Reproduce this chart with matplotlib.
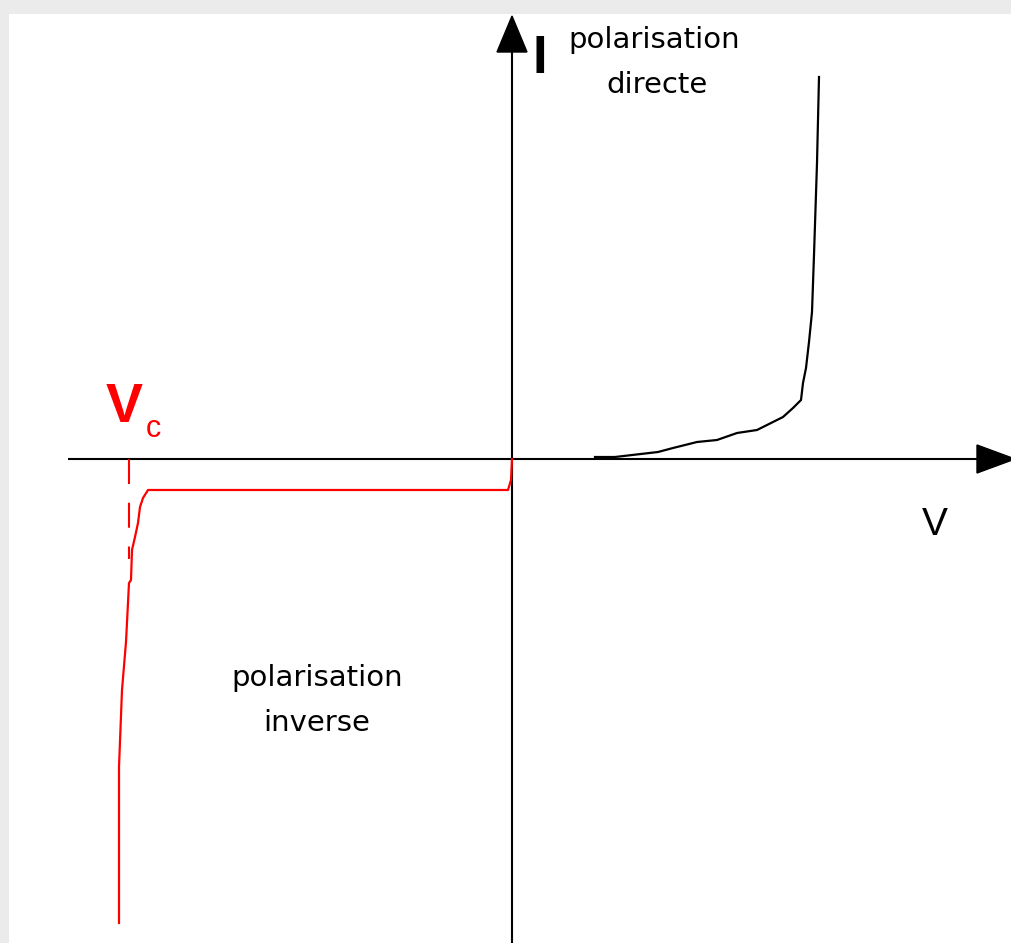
import numpy as np
import matplotlib
matplotlib.use("Agg")
import matplotlib.pyplot as plt
from matplotlib.patches import Polygon, Rectangle

# forward bias branch (V, I)
v_direct = [83, 103, 146, 161, 185, 205, 225, 245, 261, 271, 281, 289, 291, 294, 297, 300, 302, 305, 307]
i_direct = [2, 2, 7, 11, 17, 19, 26, 29, 37, 42, 51, 59, 76, 91, 117, 147, 204, 296, 382]

# reverse bias branch with breakdown at Vc
v_inverse = [0, -1, -4, -362, -364, -369, -372, -374, -377, -380, -381, -383, -386, -390, -393, -393]
i_inverse = [0, -21, -31, -31, -31, -39, -48, -64, -78, -91, -121, -124, -183, -231, -308, -464]

v_c = -383
i_c_mark = -100

fig = plt.figure(figsize=(10.11, 9.43), dpi=100)
fig.patch.set_facecolor("white")
# light grey frame on left and top
fig.patches.append(Rectangle((0, 0), 9 / 1011, 1, transform=fig.transFigure,
                             facecolor="#ebebeb", edgecolor="none"))
fig.patches.append(Rectangle((0, 1 - 14 / 943), 1, 14 / 943, transform=fig.transFigure,
                             facecolor="#ebebeb", edgecolor="none"))

ax = fig.add_axes([0, 0, 1, 1])
ax.set_facecolor("none")
ax.set_xlim(-512, 499)
ax.set_ylim(-484, 459)
ax.axis("off")

# axes with arrow heads
ax.plot([-444, 465], [0, 0], color="black", lw=1.5, solid_capstyle="butt")
ax.plot([0, 0], [-484, 407], color="black", lw=1.5, solid_capstyle="butt")
ax.add_patch(Polygon([[465, 14], [465, -14], [503, 0]], closed=True,
                     facecolor="black", edgecolor="black"))
ax.add_patch(Polygon([[-15, 407], [15, 407], [0, 443]], closed=True,
                     facecolor="black", edgecolor="black"))

# characteristic curves
ax.plot(v_direct, i_direct, color="black", lw=1.6)
ax.plot(v_inverse, i_inverse, color="red", lw=1.6)
ax.plot([v_c, v_c], [0, i_c_mark], color="red", lw=1.5, linestyle=(0, (12, 9)))

# labels
ax.text(28, 386, "I", fontsize=38, fontweight="bold", family="Liberation Sans",
        ha="center", va="baseline")
ax.text(142, 411, "polarisation", fontsize=21, ha="center", va="baseline")
ax.text(145, 366, "directe", fontsize=21, ha="center", va="baseline")
ax.text(-195, -227, "polarisation", fontsize=21, ha="center", va="baseline")
ax.text(-195, -272, "inverse", fontsize=21, ha="center", va="baseline")
ax.text(423, -76, "V", fontsize=28, family="Liberation Sans", ha="center", va="baseline")
ax.text(-388, 37, "V", fontsize=40, fontweight="bold", family="Liberation Sans",
        color="red", ha="center", va="baseline")
ax.text(-359, 22, "c", fontsize=22, family="Liberation Sans", color="red",
        ha="center", va="baseline")

fig.savefig("out.png", dpi=100)
